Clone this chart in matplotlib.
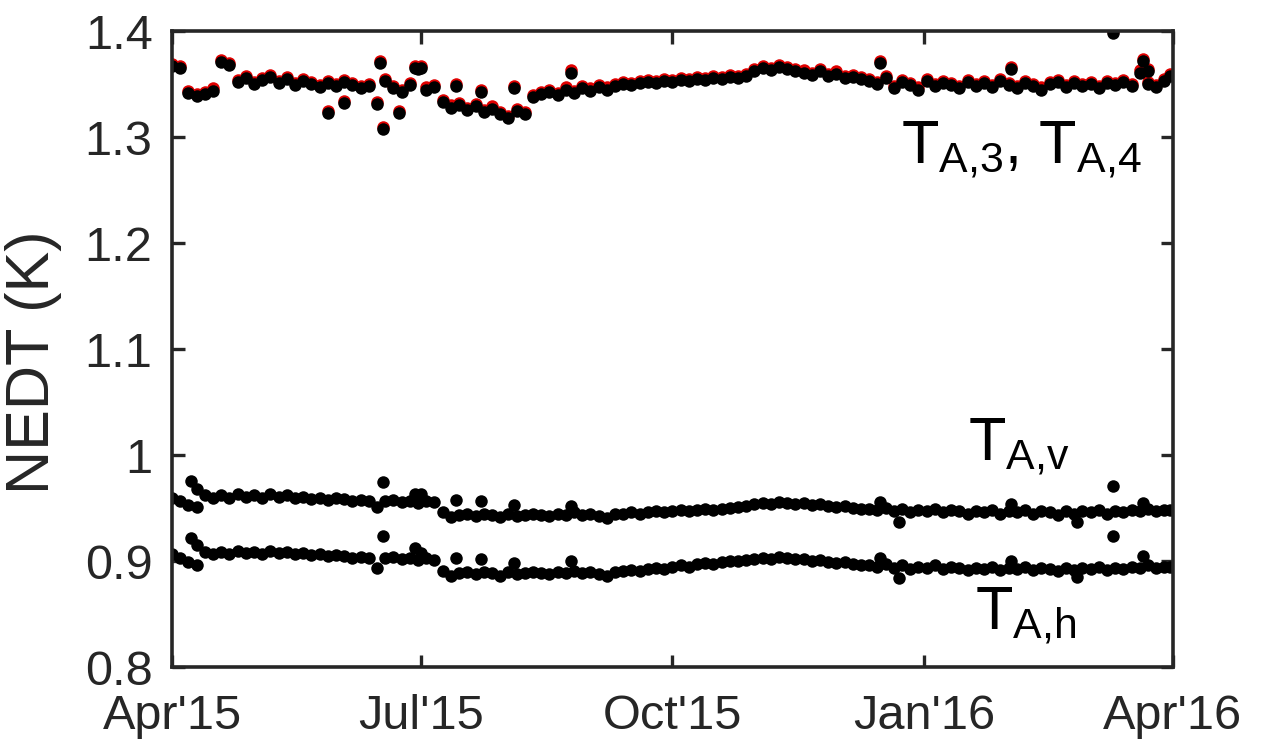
import pandas as pd
import numpy as np
import matplotlib
matplotlib.use("Agg")
import matplotlib.pyplot as plt
import matplotlib.dates as mdates

# NEDT daily values, every 3 days from 1 Apr 2015
START = pd.Timestamp("2015-04-01")

ta4 = [1.367, 1.365,
       1.342, 1.339, 1.341, 1.344,
       1.371, 1.368,
       1.352, 1.356, 1.350, 1.354, 1.357, 1.351, 1.355,
       1.349, 1.353, 1.350, 1.347, 1.351, 1.348, 1.352, 1.349, 1.346, 1.348,
       1.331, 1.353,
       1.346, 1.343, 1.349, 1.364, 1.345, 1.347,
       1.333, 1.328, 1.330, 1.326, 1.329, 1.324, 1.327, 1.322, 1.318, 1.325, 1.322,
       1.338, 1.341, 1.343, 1.340, 1.345, 1.342, 1.346, 1.344, 1.347, 1.345, 1.348,
       1.350, 1.349, 1.351, 1.352, 1.351, 1.353, 1.352, 1.354, 1.353, 1.355, 1.354, 1.356, 1.355, 1.357, 1.356, 1.358,
       1.362, 1.365, 1.363, 1.366, 1.364, 1.362,
       1.361, 1.359, 1.362, 1.358, 1.360, 1.356, 1.357, 1.355,
       1.353, 1.350, 1.356, 1.346, 1.352, 1.349, 1.345, 1.353, 1.348, 1.351,
       1.349, 1.346, 1.352, 1.348, 1.351, 1.347, 1.353, 1.349, 1.346, 1.351,
       1.348, 1.345, 1.350, 1.352, 1.347, 1.351, 1.348, 1.350, 1.346, 1.351,
       1.349, 1.352, 1.348, 1.361, 1.350, 1.347, 1.353]

ta3 = [1.369, 1.367,
       1.344, 1.341, 1.343, 1.346,
       1.373, 1.370,
       1.354, 1.358, 1.352, 1.356, 1.359, 1.353, 1.357,
       1.351, 1.355, 1.352, 1.349, 1.353, 1.350, 1.354, 1.351, 1.348, 1.350,
       1.333, 1.355,
       1.348, 1.345, 1.351, 1.366, 1.347, 1.349,
       1.335, 1.330, 1.332, 1.328, 1.331, 1.326, 1.329, 1.324, 1.320, 1.327, 1.324,
       1.340, 1.343, 1.345, 1.342, 1.347, 1.344, 1.348, 1.346, 1.349, 1.347, 1.350,
       1.352, 1.351, 1.353, 1.354, 1.353, 1.355, 1.354, 1.356, 1.355, 1.357, 1.356, 1.358, 1.357, 1.359, 1.358, 1.360,
       1.364, 1.367, 1.365, 1.368, 1.366, 1.364,
       1.363, 1.361, 1.364, 1.360, 1.362, 1.358, 1.359, 1.357,
       1.355, 1.352, 1.358, 1.348, 1.354, 1.351, 1.347, 1.355, 1.350, 1.353,
       1.351, 1.348, 1.354, 1.350, 1.353, 1.349, 1.355, 1.351, 1.348, 1.353,
       1.350, 1.347, 1.352, 1.354, 1.349, 1.353, 1.350, 1.352, 1.348, 1.353,
       1.351, 1.354, 1.350, 1.363, 1.352, 1.349, 1.355]

ta_v = [0.960, 0.957,
        0.953, 0.951, 0.962, 0.960,
        0.962, 0.960,
        0.963, 0.961, 0.962, 0.960, 0.963, 0.961, 0.962,
        0.960, 0.961, 0.959, 0.960, 0.958, 0.960, 0.959, 0.957, 0.958, 0.957,
        0.951, 0.957,
        0.958, 0.956, 0.957, 0.955, 0.957, 0.956,
        0.946, 0.942, 0.944, 0.945, 0.943, 0.945, 0.944, 0.942, 0.945, 0.943, 0.944,
        0.945, 0.944, 0.943, 0.945, 0.944, 0.946, 0.944, 0.945, 0.943, 0.941, 0.945,
        0.945, 0.946, 0.945, 0.946, 0.947, 0.946, 0.947, 0.948, 0.947, 0.948, 0.949, 0.948, 0.949, 0.950, 0.951, 0.952,
        0.954, 0.955, 0.954, 0.956, 0.955, 0.954,
        0.955, 0.953, 0.954, 0.952, 0.951, 0.952, 0.950, 0.949,
        0.949, 0.948, 0.950, 0.947, 0.949, 0.946, 0.948, 0.947, 0.949, 0.946,
        0.948, 0.947, 0.945, 0.947, 0.946, 0.948, 0.945, 0.947, 0.946, 0.948,
        0.945, 0.947, 0.946, 0.944, 0.947, 0.945, 0.947, 0.946, 0.948, 0.945,
        0.947, 0.946, 0.948, 0.947, 0.949, 0.947, 0.948]

ta_h = [0.907, 0.903,
        0.899, 0.896, 0.909, 0.907,
        0.909, 0.907,
        0.910, 0.908, 0.909, 0.907, 0.910, 0.908, 0.909,
        0.907, 0.908, 0.906, 0.907, 0.905, 0.906, 0.905, 0.903, 0.904, 0.903,
        0.894, 0.903,
        0.904, 0.902, 0.903, 0.901, 0.903, 0.901,
        0.891, 0.886, 0.889, 0.890, 0.888, 0.890, 0.889, 0.886, 0.890, 0.888, 0.889,
        0.890, 0.889, 0.888, 0.890, 0.889, 0.891, 0.889, 0.890, 0.888, 0.886, 0.890,
        0.891, 0.892, 0.891, 0.893, 0.894, 0.893, 0.895, 0.896, 0.895, 0.897, 0.898, 0.897, 0.899, 0.900, 0.900, 0.901,
        0.902, 0.903, 0.902, 0.904, 0.903, 0.902,
        0.902, 0.900, 0.901, 0.899, 0.898, 0.899, 0.897, 0.896,
        0.896, 0.895, 0.897, 0.894, 0.896, 0.893, 0.895, 0.894, 0.896, 0.893,
        0.895, 0.894, 0.892, 0.894, 0.893, 0.895, 0.892, 0.894, 0.893, 0.895,
        0.892, 0.894, 0.893, 0.891, 0.894, 0.892, 0.894, 0.893, 0.895, 0.892,
        0.894, 0.893, 0.895, 0.894, 0.896, 0.894, 0.895]

# odd days that stick out of the bands (day offset from 1 Apr 2015, value)
out_days = [57, 63, 76, 77, 83, 89, 91, 104, 113, 125, 146, 259, 307, 344, 355, 357, 365]
out_ta4 = [1.323, 1.332, 1.370, 1.308, 1.323, 1.365, 1.365, 1.348, 1.343, 1.346, 1.361, 1.370, 1.364, 1.398, 1.372, 1.362, 1.358]
out_ta3 = [1.325, 1.334, 1.372, 1.310, 1.325, 1.367, 1.367, 1.350, 1.345, 1.348, 1.363, 1.372, 1.366, 1.400, 1.374, 1.364, 1.360]

out_days_vh = [7, 9, 77, 89, 91, 104, 113, 125, 146, 259, 266, 307, 331, 344, 355, 365]
out_ta_v = [0.976, 0.968, 0.975, 0.963, 0.963, 0.958, 0.957, 0.953, 0.952, 0.956, 0.937, 0.954, 0.937, 0.971, 0.955, 0.948]
out_ta_h = [0.922, 0.915, 0.924, 0.912, 0.908, 0.903, 0.902, 0.898, 0.900, 0.903, 0.884, 0.900, 0.885, 0.924, 0.905, 0.895]

x_ticks = ["2015-04-01", "2015-07-01", "2015-10-01", "2016-01-01", "2016-04-01"]
y_ticks = [0.8, 0.9, 1.0, 1.1, 1.2, 1.3, 1.4]
y_ticklabels = ["0.8", "0.9", "1", "1.1", "1.2", "1.3", "1.4"]

plt.rcParams["font.family"] = ["Liberation Sans", "DejaVu Sans"]
plt.rcParams["mathtext.fontset"] = "custom"
plt.rcParams["mathtext.rm"] = "Liberation Sans"
plt.rcParams["mathtext.it"] = "Liberation Sans"

INK = "#262626"

fig = plt.figure(figsize=(12.65, 7.43), dpi=100)
ax = fig.add_axes([0.136, 0.102, 0.791, 0.856])


def dates(vals):
    return pd.date_range(START, periods=len(vals), freq="3D")


def odd(days):
    return START + pd.to_timedelta(days, unit="D")


mk = dict(linestyle="none", marker="o", markersize=9, markeredgewidth=0)
ax.plot(dates(ta3), ta3, color="#e00000", **mk)
ax.plot(odd(out_days), out_ta3, color="#e00000", **mk)
ax.plot(dates(ta4), ta4, color="black", **mk)
ax.plot(odd(out_days), out_ta4, color="black", **mk)
for vals, ovals in [(ta_v, out_ta_v), (ta_h, out_ta_h)]:
    ax.plot(dates(vals), vals, color="black", **mk)
    ax.plot(odd(out_days_vh), ovals, color="black", **mk)

ax.set_xlim(pd.Timestamp("2015-04-01"), pd.Timestamp("2016-04-01"))
ax.set_ylim(0.8, 1.4)
ax.set_xticks(pd.to_datetime(x_ticks))
ax.xaxis.set_major_formatter(mdates.DateFormatter("%b'%y"))
ax.set_yticks(y_ticks)
ax.set_yticklabels(y_ticklabels)

ax.tick_params(direction="in", length=9, width=2.4, top=True, right=True,
               labelsize=35, colors=INK)
ax.tick_params(axis="y", pad=14)
ax.tick_params(axis="x", pad=19)
for s in ax.spines.values():
    s.set_linewidth(2.6)
    s.set_color(INK)
ax.set_ylabel("NEDT (K)", fontsize=44, color=INK)
ax.yaxis.set_label_coords(-0.110, 0.48)

tx = dict(transform=ax.transAxes, fontsize=44, color="black", va="baseline", ha="left")
ax.text(0.729, 0.792, r"$\mathregular{T_{A{,}3}}$, $\mathregular{T_{A{,}4}}$", **tx)
ax.text(0.795, 0.325, r"$\mathregular{T_{A{,}v}}$", **tx)
ax.text(0.802, 0.058, r"$\mathregular{T_{A{,}h}}$", **tx)

fig.savefig("out.png", dpi=100)
